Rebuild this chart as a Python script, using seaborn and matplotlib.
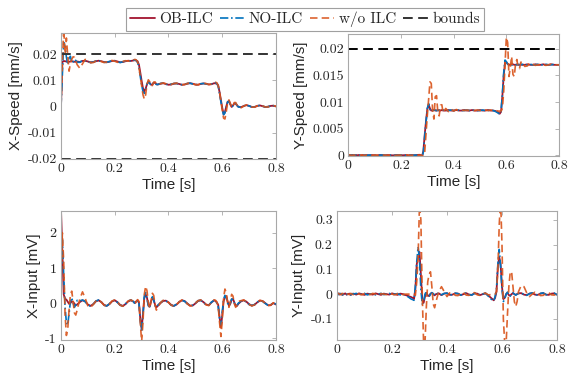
import matplotlib
matplotlib.use('Agg')
import numpy as np
import matplotlib.pyplot as plt
import seaborn as sns

# time samples [s] (denser around the steps at 0.3 s and 0.6 s)
t = [0.0, 0.005, 0.01, 0.015, 0.02, 0.025, 0.03, 0.035, 0.04, 0.045, 0.05, 0.055, 0.06,
     0.07, 0.08, 0.09, 0.10, 0.11, 0.12, 0.13, 0.14, 0.15, 0.16, 0.17, 0.18, 0.19, 0.20, 0.21, 0.22, 0.23, 0.24, 0.25, 0.26, 0.27,
     0.275, 0.28, 0.285, 0.29, 0.295, 0.30, 0.305, 0.31, 0.315, 0.32, 0.325, 0.33, 0.335, 0.34, 0.345, 0.35, 0.355, 0.36,
     0.37, 0.38, 0.39, 0.40, 0.41, 0.42, 0.43, 0.44, 0.45, 0.46, 0.47, 0.48, 0.49, 0.50, 0.51, 0.52, 0.53, 0.54, 0.55, 0.56, 0.57,
     0.575, 0.58, 0.585, 0.59, 0.595, 0.60, 0.605, 0.61, 0.615, 0.62, 0.625, 0.63, 0.635, 0.64, 0.645, 0.65, 0.655, 0.66,
     0.67, 0.68, 0.69, 0.70, 0.71, 0.72, 0.73, 0.74, 0.75, 0.76, 0.77, 0.78, 0.79, 0.80]

#%% X-Speed [mm/s]
xs_ob = [0.0, 0.0170, 0.0174, 0.0173, 0.0172, 0.0172, 0.0171, 0.0172, 0.0173, 0.0172, 0.0171, 0.0171, 0.0172,
         0.0170, 0.0174, 0.0175, 0.0172, 0.0169, 0.0170, 0.0173, 0.0175, 0.0173, 0.0170, 0.0169, 0.0171, 0.0174, 0.0175, 0.0172, 0.0169, 0.0170, 0.0173, 0.0175, 0.0174, 0.0176,
         0.0177, 0.0176, 0.0173, 0.0160, 0.0130, 0.0098, 0.0070, 0.0058, 0.0068, 0.0085, 0.0094, 0.0090, 0.0083, 0.0084, 0.0091, 0.0090, 0.0085, 0.0084,
         0.0087, 0.0089, 0.0086, 0.0083, 0.0084, 0.0087, 0.0088, 0.0086, 0.0083, 0.0084, 0.0087, 0.0089, 0.0087, 0.0084, 0.0083, 0.0086, 0.0088, 0.0087, 0.0084, 0.0085, 0.0089,
         0.0088, 0.0088, 0.0080, 0.0055, 0.0025, -0.0005, -0.0030, -0.0022, 0.0000, 0.0018, 0.0020, 0.0008, -0.0002, 0.0004, 0.0012, 0.0011, 0.0004, -0.0001,
         -0.0003, 0.0002, 0.0005, 0.0002, -0.0002, -0.0002, 0.0002, 0.0004, 0.0001, -0.0002, -0.0001, 0.0002, 0.0003, 0.0000]
xs_no = [0.0, 0.0120, 0.0245, 0.0230, 0.0190, 0.0160, 0.0185, 0.0192, 0.0168, 0.0170, 0.0180, 0.0176, 0.0169,
         0.0169, 0.0176, 0.0175, 0.0171, 0.0168, 0.0170, 0.0174, 0.0175, 0.0172, 0.0169, 0.0169, 0.0172, 0.0175, 0.0174, 0.0171, 0.0168, 0.0171, 0.0174, 0.0175, 0.0173, 0.0177,
         0.0178, 0.0175, 0.0168, 0.0150, 0.0115, 0.0082, 0.0058, 0.0050, 0.0064, 0.0086, 0.0096, 0.0089, 0.0081, 0.0084, 0.0092, 0.0090, 0.0084, 0.0084,
         0.0088, 0.0089, 0.0085, 0.0083, 0.0085, 0.0088, 0.0088, 0.0085, 0.0083, 0.0085, 0.0088, 0.0089, 0.0086, 0.0083, 0.0084, 0.0087, 0.0088, 0.0086, 0.0084, 0.0086, 0.0090,
         0.0091, 0.0087, 0.0078, 0.0050, 0.0018, -0.0010, -0.0032, -0.0025, -0.0003, 0.0017, 0.0021, 0.0009, -0.0003, 0.0003, 0.0012, 0.0012, 0.0004, -0.0002,
         -0.0003, 0.0002, 0.0005, 0.0002, -0.0002, -0.0002, 0.0002, 0.0004, 0.0001, -0.0002, -0.0001, 0.0002, 0.0003, 0.0001]
xs_wo = [0.0, 0.0160, 0.0300, 0.0200, 0.0262, 0.0195, 0.0135, 0.0165, 0.0180, 0.0190, 0.0188, 0.0175, 0.0160,
         0.0146, 0.0163, 0.0180, 0.0176, 0.0167, 0.0168, 0.0174, 0.0176, 0.0172, 0.0168, 0.0170, 0.0174, 0.0176, 0.0173, 0.0169, 0.0169, 0.0172, 0.0175, 0.0174, 0.0172, 0.0178,
         0.0180, 0.0178, 0.0170, 0.0150, 0.0115, 0.0080, 0.0045, 0.0028, 0.0045, 0.0085, 0.0102, 0.0095, 0.0080, 0.0080, 0.0093, 0.0094, 0.0086, 0.0083,
         0.0087, 0.0090, 0.0087, 0.0083, 0.0084, 0.0088, 0.0089, 0.0086, 0.0083, 0.0084, 0.0088, 0.0090, 0.0087, 0.0083, 0.0083, 0.0087, 0.0089, 0.0087, 0.0084, 0.0086, 0.0091,
         0.0093, 0.0090, 0.0080, 0.0055, 0.0020, -0.0015, -0.0045, -0.0048, -0.0020, 0.0015, 0.0025, 0.0012, -0.0004, 0.0002, 0.0015, 0.0015, 0.0005, -0.0003,
         -0.0005, 0.0001, 0.0006, 0.0003, -0.0002, -0.0003, 0.0002, 0.0005, 0.0002, -0.0002, -0.0002, 0.0002, 0.0003, 0.0001]

#%% Y-Speed [mm/s]
ys_ob = [0.0, 0.00005, -0.00003, 0.00004, 0.0, -0.00004, 0.00003, 0.0, 0.00004, -0.00002, 0.0, 0.00003, -0.00003,
         0.00003, -0.00003, 0.00002, 0.0, -0.00003, 0.00004, 0.0, -0.00002, 0.00003, 0.0, -0.00003, 0.00002, 0.00003, -0.00002, 0.0, 0.00003, -0.00003, 0.00002, 0.0, 0.00004, 0.00008,
         0.0000, -0.0002, 0.0008, 0.0038, 0.0064, 0.0087, 0.0095, 0.0088, 0.0084, 0.0084, 0.0085, 0.0084, 0.0084, 0.0085, 0.0084, 0.0084, 0.0085, 0.0084,
         0.0084, 0.0085, 0.0084, 0.0084, 0.0085, 0.0084, 0.0084, 0.0085, 0.0084, 0.0084, 0.0085, 0.0084, 0.0084, 0.0085, 0.0084, 0.0084, 0.0085, 0.0084, 0.0084, 0.0083, 0.0080,
         0.0078, 0.0082, 0.0112, 0.0150, 0.0174, 0.0175, 0.0172, 0.0170, 0.0170, 0.0171, 0.0171, 0.0170, 0.0170, 0.0171, 0.0170, 0.0170, 0.0171, 0.0170,
         0.0170, 0.0171, 0.0170, 0.0170, 0.0171, 0.0170, 0.0170, 0.0171, 0.0170, 0.0170, 0.0171, 0.0170, 0.0170, 0.0170]
ys_no = [0.0, -0.00004, 0.00005, 0.0, -0.00003, 0.00004, 0.0, -0.00004, 0.00003, 0.0, 0.00004, -0.00003, 0.0,
         -0.00003, 0.00004, 0.0, -0.00003, 0.00003, 0.0, 0.00004, -0.00003, 0.0, 0.00003, -0.00004, 0.0, 0.00003, 0.00002, -0.00003, 0.0, 0.00004, -0.00002, 0.0, 0.00003, 0.0,
         -0.0001, -0.0003, 0.0006, 0.0035, 0.0062, 0.0088, 0.0097, 0.0086, 0.0082, 0.0084, 0.0085, 0.0085, 0.0084, 0.0084, 0.0085, 0.0084, 0.0084, 0.0085,
         0.0084, 0.0084, 0.0085, 0.0084, 0.0084, 0.0085, 0.0084, 0.0084, 0.0085, 0.0084, 0.0084, 0.0085, 0.0084, 0.0084, 0.0085, 0.0084, 0.0084, 0.0085, 0.0084, 0.0082, 0.0079,
         0.0077, 0.0083, 0.0115, 0.0155, 0.0179, 0.0176, 0.0171, 0.0170, 0.0171, 0.0170, 0.0170, 0.0171, 0.0170, 0.0170, 0.0171, 0.0170, 0.0170, 0.0171,
         0.0170, 0.0170, 0.0171, 0.0170, 0.0170, 0.0171, 0.0170, 0.0170, 0.0171, 0.0170, 0.0170, 0.0171, 0.0170, 0.0170]
ys_wo = [0.0, 0.00006, 0.0, -0.00005, 0.00003, 0.0, -0.00004, 0.00005, 0.0, -0.00003, 0.00004, 0.0, -0.00005,
         0.00004, 0.0, -0.00005, 0.00003, 0.0, -0.00004, 0.00005, 0.0, -0.00003, 0.00004, 0.0, -0.00005, 0.00003, 0.0, -0.00004, 0.00005, 0.0, -0.00003, 0.00004, 0.0, 0.00002,
         0.0, 0.0, -0.0003, 0.0005, 0.0040, 0.0075, 0.0105, 0.0138, 0.0135, 0.0085, 0.0068, 0.0110, 0.0112, 0.0080, 0.0074, 0.0094, 0.0095, 0.0080,
         0.0088, 0.0082, 0.0087, 0.0083, 0.0086, 0.0084, 0.0085, 0.0084, 0.0085, 0.0084, 0.0085, 0.0084, 0.0085, 0.0084, 0.0085, 0.0085, 0.0084, 0.0085, 0.0084, 0.0084, 0.0083,
         0.0083, 0.0083, 0.0088, 0.0120, 0.0170, 0.0222, 0.0212, 0.0148, 0.0165, 0.0186, 0.0152, 0.0148, 0.0172, 0.0180, 0.0164, 0.0163, 0.0175, 0.0176,
         0.0167, 0.0168, 0.0174, 0.0171, 0.0169, 0.0170, 0.0171, 0.0170, 0.0169, 0.0170, 0.0171, 0.0170, 0.0170, 0.0170]

#%% X-Input [mV]
xi_ob = [2.65, 1.50, 0.25, 0.12, 0.10, 0.04, -0.02, 0.00, 0.05, 0.04, -0.02, -0.06, -0.04,
         0.03, 0.08, 0.05, -0.04, -0.08, -0.03, 0.05, 0.08, 0.03, -0.05, -0.08, -0.03, 0.05, 0.08, 0.03, -0.05, -0.08, -0.03, 0.05, 0.08, 0.04,
         0.00, 0.05, 0.08, 0.02, -0.45, -0.75, -0.30, 0.15, 0.25, 0.15, -0.05, -0.10, 0.05, 0.15, 0.10, -0.05, -0.12, -0.08,
         0.00, 0.06, 0.07, 0.02, -0.05, -0.08, -0.04, 0.03, 0.08, 0.06, -0.01, -0.07, -0.07, -0.01, 0.06, 0.08, 0.03, -0.04, -0.06, 0.02, 0.08,
         0.06, 0.02, -0.05, -0.40, -0.70, -0.35, 0.05, 0.18, 0.20, 0.05, -0.08, -0.02, 0.10, 0.12, 0.02, -0.08, -0.08, -0.02,
         0.05, 0.08, 0.04, -0.03, -0.07, -0.05, 0.02, 0.07, 0.06, 0.00, -0.06, -0.06, 0.00, -0.04]
xi_no = [0.80, 1.80, 0.80, -0.10, -0.55, -0.62, -0.30, 0.05, 0.15, 0.00, -0.12, -0.05, 0.08,
         0.06, 0.09, 0.04, -0.05, -0.09, -0.03, 0.06, 0.09, 0.03, -0.06, -0.08, -0.02, 0.06, 0.08, 0.02, -0.06, -0.08, -0.02, 0.06, 0.09, 0.04,
         -0.02, 0.02, 0.07, 0.00, -0.50, -0.82, -0.35, 0.20, 0.30, 0.12, -0.08, -0.10, 0.08, 0.18, 0.08, -0.08, -0.12, -0.06,
         0.01, 0.07, 0.07, 0.01, -0.06, -0.08, -0.03, 0.04, 0.08, 0.05, -0.02, -0.07, -0.06, 0.00, 0.07, 0.08, 0.02, -0.05, -0.06, 0.03, 0.08,
         0.05, 0.00, -0.10, -0.45, -0.62, -0.25, 0.10, 0.22, 0.15, 0.00, -0.08, 0.00, 0.12, 0.10, 0.00, -0.08, -0.06, 0.00,
         0.06, 0.08, 0.03, -0.04, -0.07, -0.04, 0.03, 0.07, 0.05, -0.01, -0.06, -0.05, 0.01, -0.03]
xi_wo = [0.50, 2.00, 1.20, -0.30, -0.92, -0.75, -0.20, 0.25, 0.34, 0.05, -0.28, -0.34, -0.20,
         0.12, 0.32, 0.14, -0.08, -0.12, -0.04, 0.06, 0.09, 0.03, -0.06, -0.09, -0.03, 0.06, 0.09, 0.03, -0.06, -0.09, -0.03, 0.06, 0.09, 0.05,
         -0.02, 0.04, 0.10, 0.05, -0.55, -1.10, -0.55, 0.25, 0.48, 0.35, 0.00, -0.15, 0.05, 0.28, 0.22, -0.05, -0.20, -0.12,
         0.01, 0.08, 0.08, 0.02, -0.06, -0.09, -0.04, 0.04, 0.09, 0.06, -0.02, -0.08, -0.07, 0.00, 0.07, 0.09, 0.03, -0.05, -0.07, 0.03, 0.09,
         0.08, 0.03, -0.10, -0.55, -0.95, -0.50, 0.15, 0.40, 0.30, 0.00, -0.12, 0.05, 0.25, 0.20, -0.02, -0.12, -0.05, 0.05,
         0.07, 0.09, 0.04, -0.04, -0.08, -0.05, 0.03, 0.08, 0.06, -0.01, -0.07, -0.06, 0.01, -0.04]

#%% Y-Input [mV]
yi_ob = [0.000, 0.003, -0.002, 0.002, -0.003, 0.000, 0.003, -0.002, 0.000, 0.002, -0.003, 0.000, 0.002,
         -0.002, 0.003, 0.000, -0.003, 0.002, 0.000, -0.002, 0.003, 0.000, -0.003, 0.002, 0.000, -0.002, 0.003, 0.000, -0.003, 0.002, 0.000, -0.004, -0.008, -0.012,
         -0.015, -0.020, 0.020, 0.120, 0.150, 0.170, 0.080, -0.020, -0.035, -0.010, 0.005, -0.005, -0.008, 0.002, 0.005, 0.000, -0.005, 0.000,
         0.003, -0.004, 0.002, 0.004, -0.003, -0.002, 0.003, 0.002, -0.004, 0.000, 0.004, -0.002, -0.003, 0.003, 0.002, -0.004, 0.000, 0.003, -0.005, -0.015, -0.025,
         -0.015, 0.010, 0.110, 0.150, 0.120, 0.030, -0.020, -0.015, 0.000, 0.006, -0.004, -0.006, 0.000, 0.004, 0.000, -0.003, 0.000, 0.003,
         0.004, -0.002, -0.004, 0.002, 0.004, -0.002, -0.003, 0.002, 0.004, -0.002, -0.003, 0.002, 0.003, -0.002]
yi_no = [0.000, -0.002, 0.003, 0.000, -0.003, 0.002, 0.000, -0.002, 0.003, 0.000, -0.003, 0.002, 0.000,
         0.003, -0.002, 0.000, 0.003, -0.003, 0.000, 0.002, -0.003, 0.000, 0.003, -0.002, 0.000, 0.003, -0.003, 0.000, 0.002, -0.003, 0.000, -0.005, -0.012, -0.020,
         -0.022, -0.025, 0.030, 0.130, 0.190, 0.140, 0.020, -0.040, -0.030, 0.000, 0.010, -0.008, -0.010, 0.000, 0.006, 0.002, -0.004, 0.000,
         0.004, -0.003, 0.003, 0.004, -0.004, -0.002, 0.004, 0.002, -0.004, 0.000, 0.005, -0.002, -0.004, 0.003, 0.003, -0.004, 0.000, 0.004, -0.008, -0.020, -0.027,
         -0.010, 0.020, 0.120, 0.180, 0.110, 0.020, -0.030, -0.020, 0.000, 0.008, -0.005, -0.008, 0.000, 0.005, 0.000, -0.004, 0.000, 0.003,
         0.005, -0.002, -0.005, 0.002, 0.005, -0.002, -0.004, 0.003, 0.005, -0.002, -0.004, 0.002, 0.004, -0.003]
yi_wo = [0.000, 0.002, 0.000, -0.002, 0.003, 0.000, -0.003, 0.002, 0.000, -0.002, 0.003, 0.000, -0.002,
         0.002, 0.000, -0.003, 0.002, 0.000, -0.002, 0.003, 0.000, -0.003, 0.002, 0.000, -0.002, 0.003, 0.000, -0.003, 0.002, 0.000, -0.002, 0.000, 0.000, 0.000,
         0.000, 0.000, -0.005, 0.050, 0.150, 0.360, 0.300, 0.000, -0.200, -0.200, -0.050, 0.050, 0.080, 0.090, 0.030, -0.040, -0.055, -0.030,
         0.010, 0.030, 0.010, -0.010, 0.005, 0.008, -0.005, -0.006, 0.004, 0.006, -0.004, -0.005, 0.004, 0.006, -0.003, -0.005, 0.003, 0.004, -0.003, -0.002, 0.000,
         0.000, 0.010, 0.100, 0.280, 0.380, 0.200, -0.100, -0.200, -0.200, -0.080, 0.030, 0.090, 0.090, 0.030, -0.030, -0.050, -0.030, 0.010,
         0.035, 0.030, 0.005, -0.010, 0.000, 0.008, 0.004, -0.006, -0.005, 0.004, 0.006, -0.003, -0.004, 0.002]

bound = 0.02
nombres = ['OB-ILC', 'NO-ILC', 'w/o ILC', 'bounds']

#%% estilo
sns.set_style('white')
plt.rcParams['font.family'] = ['Liberation Sans', 'DejaVu Sans']
plt.rcParams['axes.unicode_minus'] = False

c_ob = '#A2142F'
c_no = '#0072BD'
c_wo = '#D95319'
gris = '#a8a8a8'
tfont = 'cmr10'

fig = plt.figure(figsize=(5.68, 3.82), dpi=100)
ax1 = fig.add_axes([0.1074, 0.5838, 0.3785, 0.3298])
ax2 = fig.add_axes([0.6132, 0.5916, 0.3710, 0.3194])
ax3 = fig.add_axes([0.1074, 0.1099, 0.3785, 0.3377])
ax4 = fig.add_axes([0.5933, 0.1099, 0.3873, 0.3377])


def curvas(ax, ob, no, wo):
    sns.lineplot(x=t, y=ob, ax=ax, color=c_ob, lw=1.3, label=nombres[0])
    sns.lineplot(x=t, y=no, ax=ax, color=c_no, lw=1.2, linestyle=(0, (5, 1.6, 1, 1.6)), label=nombres[1])
    sns.lineplot(x=t, y=wo, ax=ax, color=c_wo, lw=1.2, linestyle=(0, (4.5, 2.5)), alpha=0.9, label=nombres[2])


def formato(ax, ylim, yticks, ylabels, ylabel):
    ax.set_xlim(0, 0.8)
    ax.set_ylim(*ylim)
    ax.set_xticks([0, 0.2, 0.4, 0.6, 0.8], ['0', '0.2', '0.4', '0.6', '0.8'], fontfamily=tfont, fontsize=10)
    ax.set_yticks(yticks, ylabels, fontfamily=tfont, fontsize=10)
    ax.set_xlabel('Time [s]', fontsize=11, labelpad=2)
    ax.set_ylabel(ylabel, fontsize=11, labelpad=3)
    ax.tick_params(direction='in', top=True, right=True, length=3, width=0.6, color=gris, pad=3)
    for s in ax.spines.values():
        s.set_color(gris)
        s.set_linewidth(0.8)
    if ax.get_legend() is not None:
        ax.get_legend().remove()


# X-Speed
curvas(ax1, xs_ob, xs_no, xs_wo)
ax1.axhline(bound, color='#333333', lw=1.4, linestyle=(0, (5, 2.8)), label=nombres[3])
ax1.axhline(-bound, color='#333333', lw=1.4, linestyle=(0, (5, 2.8)))
formato(ax1, (-0.0201, 0.0281), [-0.02, -0.01, 0, 0.01, 0.02],
        ['-0.02', '-0.01', '0', '0.01', '0.02'], 'X-Speed [mm/s]')

# Y-Speed
curvas(ax2, ys_ob, ys_no, ys_wo)
ax2.axhline(bound, color='k', lw=1.4, linestyle=(0, (5, 2.8)))
formato(ax2, (-0.00015, 0.0228), [0, 0.005, 0.01, 0.015, 0.02],
        ['0', '0.005', '0.01', '0.015', '0.02'], 'Y-Speed [mm/s]')

# X-Input
curvas(ax3, xi_ob, xi_no, xi_wo)
formato(ax3, (-1.05, 2.62), [-1, 0, 1, 2], ['-1', '0', '1', '2'], 'X-Input [mV]')

# Y-Input
curvas(ax4, yi_ob, yi_no, yi_wo)
formato(ax4, (-0.185, 0.335), [-0.1, 0, 0.1, 0.2, 0.3],
        ['-0.1', '0', '0.1', '0.2', '0.3'], 'Y-Input [mV]')

handles = ax1.get_lines()[:4]
leg = fig.legend(handles, nombres, loc='upper center', bbox_to_anchor=(0.537, 1.0), ncol=4,
                 frameon=True, fancybox=False, edgecolor='#888888', handlelength=1.6,
                 handletextpad=0.3, columnspacing=0.45, borderpad=0.25,
                 prop={'family': tfont, 'size': 11})
leg.get_frame().set_linewidth(0.8)

fig.savefig('out.png', dpi=100)
